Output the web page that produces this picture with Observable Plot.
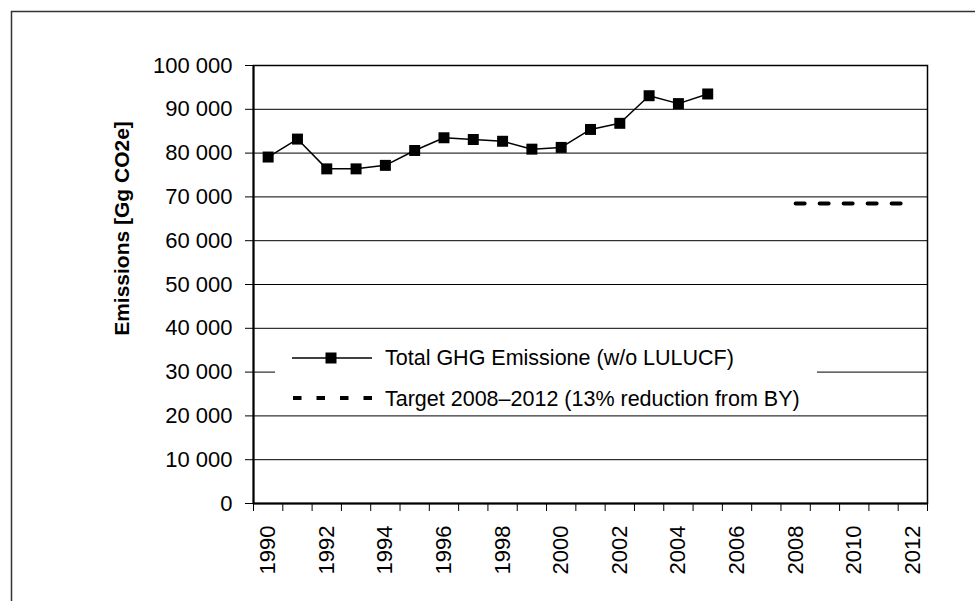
<!DOCTYPE html>
<html><head><meta charset="utf-8">
<script src="https://cdn.jsdelivr.net/npm/d3@7"></script>
<script src="https://cdn.jsdelivr.net/npm/@observablehq/plot@0.6"></script>
<style>body{margin:0;background:#fff} svg{font-family:"Liberation Sans",Arial,sans-serif}</style>
</head><body><div id="chart"></div>
<script>
const years = [1990,1991,1992,1993,1994,1995,1996,1997,1998,1999,2000,2001,2002,2003,2004,2005];
const emissions = [79100,83200,76400,76400,77200,80600,83500,83100,82700,80900,81300,85400,86800,93100,91300,93500];
const targetYears = [2008, 2012];
const targetValue = 68500;
const yTicks = d3.range(0, 100001, 10000);
const xLabelYears = d3.range(1990, 2013, 2);
const seriesNames = ["Total GHG Emissione (w/o LULUCF)", "Target 2008\u20132012 (13% reduction from BY)"];
const yTitle = "Emissions [Gg CO2e]";

const data = years.map((year, i) => ({year, value: emissions[i]}));
const target = targetYears.map(year => ({year, value: targetValue}));
const fmt = d => d3.format(",")(d).replace(/,/g, " ");
const font = '"Liberation Sans", Arial, sans-serif';

const plot = Plot.plot({
  width: 975, height: 601,
  marginLeft: 253, marginRight: 48, marginTop: 65, marginBottom: 98,
  x: {domain: [1989.5, 2012.5]},
  y: {domain: [0, 100000]},
  style: {fontFamily: font, fontSize: "21px", color: "black", background: "white"},
  marks: [
    Plot.ruleY(yTicks, {stroke: "black", strokeWidth: 1}),
    Plot.axisY({ticks: yTicks, tickFormat: fmt, tickSize: 8, tickPadding: 13, label: null, fontSize: 22, strokeWidth: 1}),
    Plot.axisX({ticks: d3.range(1989.5, 2013, 1), tickFormat: () => "", tickSize: 8, label: null}),
    Plot.axisX({ticks: xLabelYears, tickFormat: d => String(d), tickSize: 0, tickPadding: 22, tickRotate: -90, label: null, fontSize: 22}),
    Plot.frame({stroke: "black", strokeWidth: 1.5}),
    Plot.ruleX([1989.5], {stroke: "black", strokeWidth: 2}),
    Plot.ruleY([0], {stroke: "black", strokeWidth: 2}),
    Plot.text([yTitle], {text: d => d, frameAnchor: "left", textAnchor: "middle", rotate: -90, dx: -131, dy: -56, fontWeight: "bold", fontSize: 21}),
    Plot.line(data, {x: "year", y: "value", stroke: "black", strokeWidth: 1.5}),
    Plot.dot(data, {x: "year", y: "value", symbol: "square", r: 6.2, fill: "black"}),
    Plot.line(target, {x: "year", y: "value", stroke: "black", strokeWidth: 4, strokeDasharray: "9,15"})
  ]
});

const svg = d3.select(plot);
const lg = svg.append("g");
lg.append("rect").attr("x", 275).attr("y", 335).attr("width", 542).attr("height", 73).attr("fill", "white");
lg.append("line").attr("x1", 292).attr("x2", 372).attr("y1", 358).attr("y2", 358).attr("stroke", "black").attr("stroke-width", 1.5);
lg.append("rect").attr("x", 325.5).attr("y", 352.5).attr("width", 11).attr("height", 11).attr("fill", "black");
lg.append("line").attr("x1", 293).attr("x2", 373).attr("y1", 398).attr("y2", 398).attr("stroke", "black").attr("stroke-width", 4).attr("stroke-dasharray", "8.5,15");
lg.selectAll("text.lbl").data(seriesNames).join("text")
  .attr("x", 385).attr("y", (d, i) => 365 + i * 41)
  .attr("text-anchor", "start")
  .attr("font-size", 21.5).attr("fill", "black").attr("font-family", font)
  .text(d => d);
svg.append("rect").attr("x", 11.5).attr("y", 11.5).attr("width", 1000).attr("height", 1000)
  .attr("fill", "none").attr("stroke", "#333").attr("stroke-width", 1.5);

document.getElementById("chart").append(plot);
</script></body></html>
